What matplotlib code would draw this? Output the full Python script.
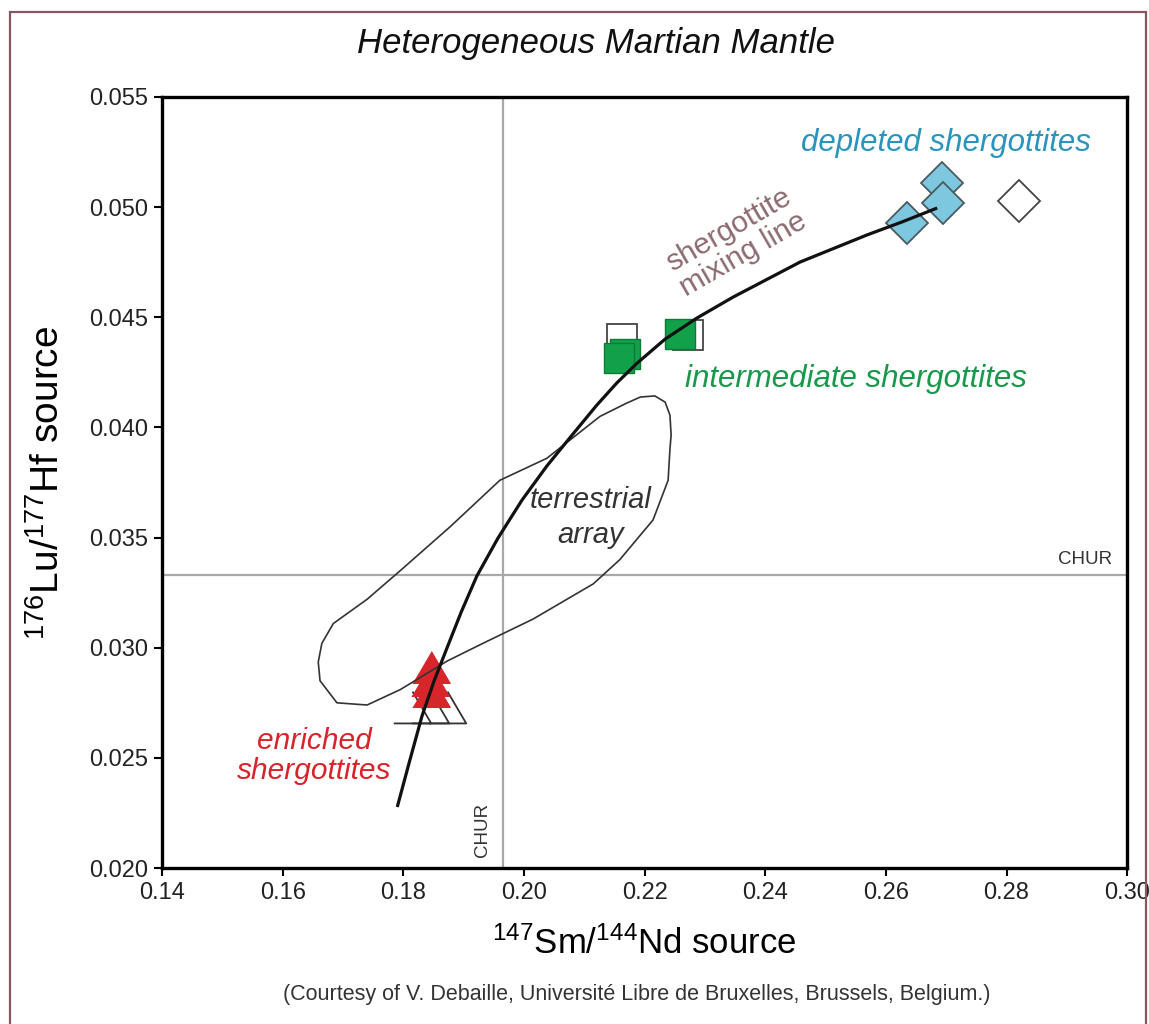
import matplotlib.pyplot as plt
from matplotlib.patches import Rectangle, Polygon

plt.rcParams['font.family'] = ['Liberation Sans', 'DejaVu Sans']
plt.rcParams['mathtext.default'] = 'regular'

# mixing line (147Sm/144Nd, 176Lu/177Hf)
mix_x = [0.1790, 0.1810, 0.1831, 0.1851, 0.1873, 0.1896, 0.1922, 0.1957, 0.1997,
         0.2038, 0.2080, 0.2121, 0.2154, 0.2186, 0.2234, 0.2287, 0.2347, 0.2458,
         0.2569, 0.2627, 0.2685]
mix_y = [0.02277, 0.02481, 0.02690, 0.02849, 0.03003, 0.03162, 0.03326, 0.03498,
         0.03671, 0.03825, 0.03966, 0.04102, 0.04202, 0.04288, 0.04401, 0.04497,
         0.04592, 0.04751, 0.04874, 0.04933, 0.04996]

# terrestrial array outline
terr_x = [0.2193, 0.2217, 0.2234, 0.2242, 0.2244, 0.2242, 0.2239, 0.2214, 0.2159,
          0.2115, 0.2015, 0.1932, 0.1873, 0.1795, 0.1740, 0.1690, 0.1662, 0.1659,
          0.1665, 0.1684, 0.1740, 0.1795, 0.1878, 0.1960, 0.2038, 0.2126, 0.2170]
terr_y = [0.04138, 0.04143, 0.04115, 0.04056, 0.03966, 0.0390, 0.0376, 0.0358,
          0.0340, 0.0329, 0.0313, 0.0302, 0.0294, 0.0281, 0.0274, 0.0275, 0.0285,
          0.02935, 0.0302, 0.0311, 0.0322, 0.0335, 0.0355, 0.0376, 0.0386, 0.0405,
          0.0411]

# enriched shergottites
enr_x = [0.1846, 0.1844, 0.1846]
enr_y = [0.02912, 0.02853, 0.02803]
enr_open_x = [0.1815, 0.1844, 0.1873]
enr_open_y = [0.02731, 0.02731, 0.02731]

# intermediate shergottites
int_x = [0.2168, 0.2158, 0.2259]
int_y = [0.04333, 0.04315, 0.04424]
int_open_x = [0.2163, 0.2272]
int_open_y = [0.04401, 0.04419]

# depleted shergottites
dep_x = [0.2635, 0.2693, 0.2695]
dep_y = [0.04928, 0.05110, 0.05019]
dep_open_x = [0.2821]
dep_open_y = [0.05028]

chur_x = 0.1965
chur_y = 0.0333

xticks = [0.14, 0.16, 0.18, 0.20, 0.22, 0.24, 0.26, 0.28, 0.30]
yticks = [0.020, 0.025, 0.030, 0.035, 0.040, 0.045, 0.050, 0.055]

fig = plt.figure(figsize=(11.49, 10.24), dpi=100)
ax = fig.add_axes([0.141, 0.1523, 0.840, 0.753])

ax.axvline(chur_x, color='#a8a8a8', lw=1.6, zorder=1)
ax.axhline(chur_y, color='#a8a8a8', lw=1.6, zorder=1)

tri = [(-1, -0.85), (1, -0.85), (0, 0.85)]
ax.plot(enr_open_x, enr_open_y, ls='none', marker=tri, ms=27, mfc='none',
        mec='#333333', mew=1.3, zorder=3)
ax.plot(enr_x, enr_y, ls='none', marker=tri, ms=27, mfc='#d7262b',
        mec='#d7262b', mew=0.8, zorder=4)

ax.add_patch(Polygon(list(zip(terr_x, terr_y)), closed=True, fill=False,
                     ec='#333333', lw=1.2, joinstyle='round', zorder=5))

ax.plot(int_open_x, int_open_y, ls='none', marker='s', ms=22, mfc='white',
        mec='#444444', mew=1.3, zorder=3)
ax.plot(int_x, int_y, ls='none', marker='s', ms=22, mfc='#12a04a',
        mec='#0d7a36', mew=1.0, zorder=4)

ax.plot(dep_open_x, dep_open_y, ls='none', marker='D', ms=21, mfc='white',
        mec='#444444', mew=1.3, zorder=3)
for x, y in zip(dep_x, dep_y):
    ax.plot(x, y, ls='none', marker='D', ms=21, mfc='#7ec8df',
            mec='#4a5a60', mew=1.3, zorder=4)

ax.plot(mix_x, mix_y, color='#111111', lw=2.3, solid_capstyle='butt',
        solid_joinstyle='round', zorder=6)

ax.text(0.2700, 0.0529, 'depleted shergottites', color='#2a94bd', fontsize=22.5,
        style='italic', ha='center', va='center')
ax.text(0.2550, 0.0422, 'intermediate shergottites', color='#17994b', fontsize=22.5,
        style='italic', ha='center', va='center')
ax.text(0.1652, 0.0251, 'enriched\nshergottites', color='#d9232a', fontsize=21.5,
        style='italic', ha='center', va='center', linespacing=1.1)
ax.text(0.2352, 0.0484, 'shergottite\nmixing line', color='#8c6b70', fontsize=21.5,
        ha='center', va='center', rotation=30, linespacing=1.05)
ax.text(0.2110, 0.0359, 'terrestrial\narray', color='#333333', fontsize=21,
        style='italic', ha='center', va='center', linespacing=1.3)
ax.text(0.2975, 0.0336, 'CHUR', color='#333333', fontsize=13.5,
        ha='right', va='bottom')
ax.text(0.1945, 0.0205, 'CHUR', color='#333333', fontsize=13.5,
        ha='right', va='bottom', rotation=90)

ax.set_xlim(0.14, 0.30)
ax.set_ylim(0.020, 0.055)
ax.set_xticks(xticks)
ax.set_yticks(yticks)
ax.set_xticklabels(['%.2f' % v for v in xticks])
ax.set_yticklabels(['%.3f' % v for v in yticks])
ax.tick_params(direction='out', length=6, width=1.5, labelsize=17, color='black',
               labelcolor='#222222', pad=4)
for s in ax.spines.values():
    s.set_linewidth(2.4)
    s.set_color('black')

ax.set_xlabel(r'$^{147}$Sm/$^{144}$Nd source', fontsize=25, labelpad=16)
ax.set_ylabel(r'$^{176}$Lu/$^{177}$Hf source', fontsize=28, labelpad=16)

fig.text(0.519, 0.958, 'Heterogeneous Martian Mantle', fontsize=25, style='italic',
         ha='center', va='center', color='#111111')
fig.text(0.554, 0.029, '(Courtesy of V. Debaille, Université Libre de Bruxelles, '
         'Brussels, Belgium.)', fontsize=15.5, ha='center', va='center', color='#333333')

fig.add_artist(Rectangle((0.0085, -0.05), 0.989, 1.038, fill=False, ec='#8b5560',
                         lw=1.6, transform=fig.transFigure))

fig.savefig('out.png', dpi=100)
